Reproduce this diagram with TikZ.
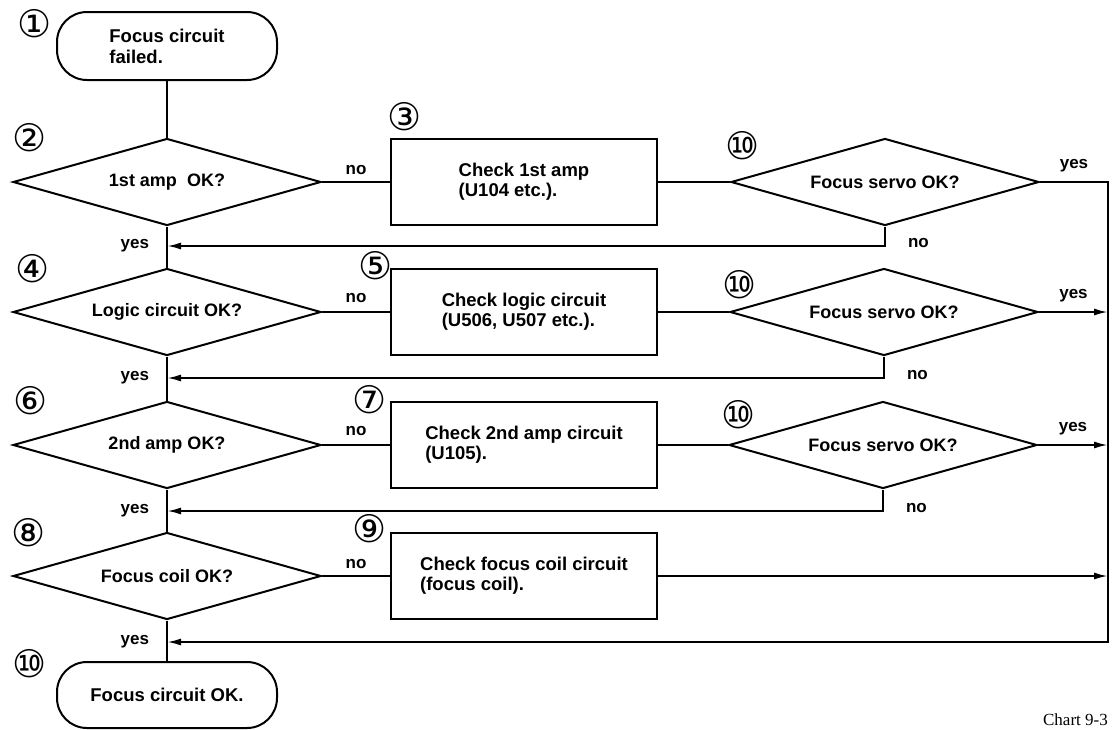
\documentclass[tikz,border=0pt]{standalone}
\usepackage{fontspec}
\setmainfont{Liberation Sans}
\newfontfamily\circfont{DejaVu Sans}
\newfontfamily\chartfont{Liberation Serif}
\usetikzlibrary{shapes.geometric,arrows.meta}

\begin{document}
\begin{tikzpicture}[x=1pt, y=-1pt,
    linea/.style={line width=2pt},
    flecha/.style={line width=2pt, -{Latex[length=14pt,width=7pt]}},
    terminal/.style={draw, line width=2pt, rectangle, rounded corners=30pt, minimum width=220pt, minimum height=68pt, align=left, font=\fontsize{18.5}{21}\selectfont\bfseries},
    pregunta/.style={draw, line width=2pt, diamond, aspect=3.5, minimum width=308pt, minimum height=87pt, inner sep=0pt, font=\fontsize{18}{20}\selectfont\bfseries},
    caja/.style={draw, line width=2pt, rectangle, minimum width=266pt, minimum height=86pt, align=left, font=\fontsize{18.5}{20}\selectfont\bfseries},
    etiq/.style={font=\fontsize{17}{18}\selectfont\bfseries, inner sep=0pt},
    numero/.style={font=\circfont\fontsize{38}{38}\selectfont, inner sep=0pt}]

    \useasboundingbox (0,0) rectangle (1114,729);

    % Columna principal
    \node[terminal] (ini) at (167,46) {Focus circuit\\failed.};
    \node[pregunta] (p2) at (167,182) {1st amp\ \ OK?};
    \node[pregunta] (p4) at (167,312) {Logic circuit OK?};
    \node[pregunta] (p6) at (167,445) {2nd amp OK?};
    \node[pregunta] (p8) at (167,576) {Focus coil OK?};
    \node[terminal, minimum height=66pt] (fin) at (167,695) {Focus circuit OK.};

    % Cajas de comprobacion
    \node[caja] (c3) at (524,182) {Check 1st amp\\(U104 etc.).};
    \node[caja] (c5) at (524,312) {Check logic circuit\\(U506, U507 etc.).};
    \node[caja] (c7) at (524,445) {Check 2nd amp circuit\\(U105).};
    \node[caja] (c9) at (524,576) {Check focus coil circuit\\(focus coil).};

    % Rombos de servo
    \node[pregunta] (s3) at (885,182) {Focus servo OK?};
    \node[pregunta] (s5) at (884,312) {Focus servo OK?};
    \node[pregunta] (s7) at (883,445) {Focus servo OK?};

    % Puntos de union
    \coordinate (m1) at (167,246);
    \coordinate (m2) at (167,378);
    \coordinate (m3) at (167,511);
    \coordinate (m4) at (167,642);
    \coordinate (r4) at (1108,642);

    % Numeros
    \node[numero] (n1) at (35,24) {①};
    \node[numero] (n2) at (30,138) {②};
    \node[numero] (n3) at (405,117) {③};
    \node[numero] (n4) at (33,269) {④};
    \node[numero] (n5) at (376,266) {⑤};
    \node[numero] (n6) at (31,401) {⑥};
    \node[numero] (n7) at (370,400) {⑦};
    \node[numero] (n8) at (29,533) {⑧};
    \node[numero] (n9) at (370,529) {⑨};
    \node[numero] (n10a) at (743,146) {⑩};
    \node[numero] (n10b) at (740,285) {⑩};
    \node[numero] (n10c) at (739,415) {⑩};
    \node[numero] (n10d) at (30,664) {⑩};

    % Flujo vertical
    \draw[linea] (ini) -- (p2);
    \draw[linea] (p2) -- (p4);
    \draw[linea] (p4) -- (p6);
    \draw[linea] (p6) -- (p8);
    \draw[linea] (p8) -- (fin);

    % Ramas "no"
    \draw[linea] (p2) -- node[etiq, above=6pt] {no} (c3);
    \draw[linea] (p4) -- node[etiq, above=8pt] {no} (c5);
    \draw[linea] (p6) -- node[etiq, above=8pt] {no} (c7);
    \draw[linea] (p8) -- node[etiq, above=6pt] {no} (c9);
    \draw[linea] (c3) -- (s3);
    \draw[linea] (c5) -- (s5);
    \draw[linea] (c7) -- (s7);

    % Retornos
    \draw[flecha] (s3.south) |- node[etiq, pos=0.5, right=22pt, yshift=3pt] {no} (m1) node[etiq, left=17pt] {yes};
    \draw[flecha] (s5.south) |- node[etiq, pos=0.5, right=22pt, yshift=3pt] {no} (m2) node[etiq, left=17pt] {yes};
    \draw[flecha] (s7.south) |- node[etiq, pos=0.5, right=22pt, yshift=3pt] {no} (m3) node[etiq, left=17pt] {yes};

    % Lado derecho
    \draw[flecha] (s3.east) -- node[etiq, above=9pt] {yes} (s3.east -| r4) -- (r4) -- (m4) node[etiq, left=17pt] {yes};
    \draw[flecha] (s5.east) -- node[etiq, above=9pt] {yes} (s5.east -| r4);
    \draw[flecha] (s7.east) -- node[etiq, above=9pt] {yes} (s7.east -| r4);
    \draw[flecha] (c9.east) -- (c9.east -| r4);

    \node[font=\chartfont\fontsize{17}{17}\selectfont, anchor=base east, inner sep=0pt] (pie) at (1108,725) {Chart 9-3};
\end{tikzpicture}
\end{document}
